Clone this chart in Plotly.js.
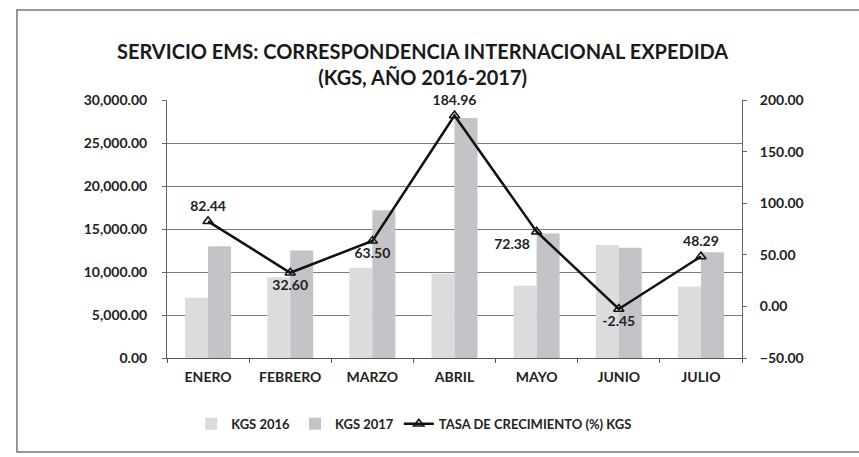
<!DOCTYPE html>
<html>
<head>
<meta charset="utf-8">
<script src="https://cdn.plot.ly/plotly-3.0.1.min.js"></script>
<style>
  body { margin: 0; background: #fff; }
  #chart { width: 859px; height: 457px; }
</style>
</head>
<body>
<div id="chart"></div>
<script>
// months
var meses = ["ENERO", "FEBRERO", "MARZO", "ABRIL", "MAYO", "JUNIO", "JULIO"];
// kgs per year
var kgs2016 = [7000, 9400, 10500, 9800, 8400, 13150, 8300];
var kgs2017 = [13000, 12500, 17170, 27900, 14480, 12830, 12300];
// growth rate (%)
var tasa = [82.44, 32.60, 63.50, 184.96, 72.38, -2.45, 48.29];
var tasaPos = ["top center", "bottom center", "bottom center", "top center",
               "bottom left", "bottom center", "top center"];

var font = "Lato, 'Open Sans', sans-serif";

var trace2016 = {
  x: meses, y: kgs2016, name: "KGS 2016", type: "bar",
  marker: {color: "#dcdcdf"}
};
var trace2017 = {
  x: meses, y: kgs2017, name: "KGS 2017", type: "bar",
  marker: {color: "#c4c4c8"}
};
var traceTasa = {
  x: meses, y: tasa, name: "TASA DE CRECIMIENTO (%) KGS",
  type: "scatter", mode: "lines+markers+text", yaxis: "y2",
  line: {color: "#111", width: 2.5},
  marker: {symbol: "triangle-up-open", size: 9, color: "#111",
           line: {width: 1.5}},
  text: tasa.map(v => v.toFixed(2)),
  textposition: tasaPos,
  textfont: {family: font, size: 14, color: "#222", weight: "bold"},
  cliponaxis: false
};

var layout = {
  width: 859, height: 457,
  margin: {l: 167, r: 117, t: 100, b: 99},
  paper_bgcolor: "#fff", plot_bgcolor: "#fff",
  font: {family: font, color: "#222"},
  title: {
    text: "<b>SERVICIO EMS: CORRESPONDENCIA INTERNACIONAL EXPEDIDA<br>(KGS, AÑO 2016-2017)</b>",
    font: {family: font, size: 20, color: "#1a1a1a"},
    x: 0.492, xanchor: "center", y: 0.87, yanchor: "middle"
  },
  barmode: "group", bargap: 0.44, bargroupgap: 0,
  xaxis: {
    showgrid: false, showline: true, linecolor: "#555", linewidth: 1,
    ticks: "outside", ticklen: 4, tickcolor: "#555", tickson: "boundaries",
    ticklabelstandoff: 6,
    tickfont: {family: font, size: 14, color: "#222", weight: "bold"}
  },
  yaxis: {
    range: [0, 30000], dtick: 5000, tickformat: ",.2f",
    showgrid: true, gridcolor: "#7a7a7a", gridwidth: 1,
    showline: true, linecolor: "#666", ticks: "outside", ticklen: 4,
    tickcolor: "#666", zeroline: false, ticklabelstandoff: 12,
    tickfont: {family: font, size: 14, color: "#222", weight: "bold"}
  },
  yaxis2: {
    range: [-50, 200], dtick: 50, tickformat: ".2f", overlaying: "y",
    side: "right", showgrid: false, zeroline: false,
    showline: true, linecolor: "#666", ticks: "outside", ticklen: 4,
    tickcolor: "#666", ticklabelstandoff: 10,
    tickfont: {family: font, size: 14, color: "#222", weight: "bold"}
  },
  legend: {
    orientation: "h", x: 0.43, xanchor: "center", y: -0.255, yanchor: "middle",
    font: {family: font, size: 13, color: "#222", weight: "bold"},
    itemwidth: 30, traceorder: "normal"
  },
  showlegend: true,
  shapes: [{
    type: "rect", xref: "paper", yref: "paper",
    x0: -0.261, x1: 1.25, y0: -0.364, y1: 1.349,
    line: {color: "#777", width: 1.5}
  }]
};

Plotly.newPlot("chart", [trace2016, trace2017, traceTasa], layout, {displayModeBar: false});
</script>
</body>
</html>
